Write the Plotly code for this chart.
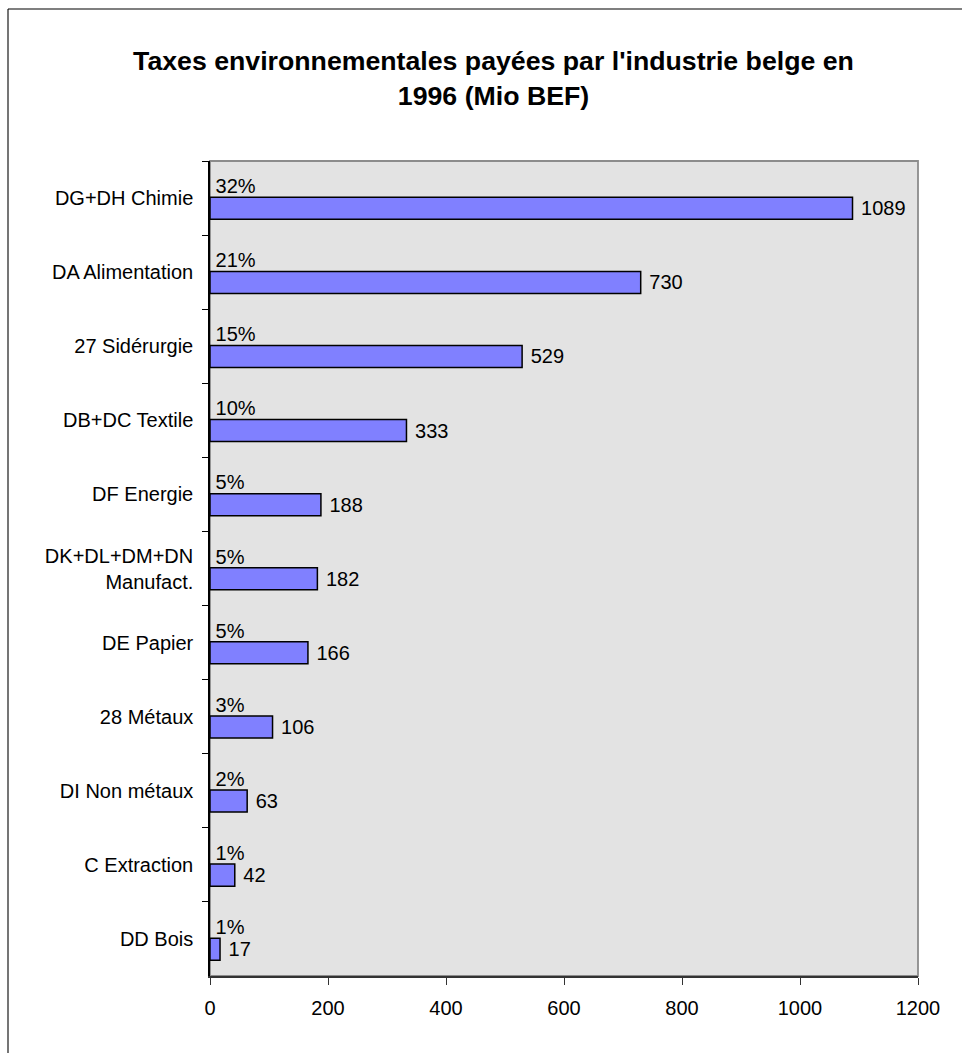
import plotly.graph_objects as go

categories = ["DG+DH Chimie", "DA Alimentation", "27 Sidérurgie", "DB+DC Textile",
              "DF Energie", "DK+DL+DM+DN<br>Manufact.", "DE Papier", "28 Métaux",
              "DI Non métaux", "C Extraction", "DD Bois"]
values = [1089, 730, 529, 333, 188, 182, 166, 106, 63, 42, 17]
percents = ["32%", "21%", "15%", "10%", "5%", "5%", "5%", "3%", "2%", "1%", "1%"]
x_ticks = [0, 200, 400, 600, 800, 1000, 1200]

FONT = "Liberation Sans, Arial, sans-serif"
W, H = 962, 1053
L, R, T, B = 210, 44, 161, 77
pw, ph = W - L - R, H - T - B

def px_x(p):
    return (p - L) / pw

def px_y(p):
    return (H - B - p) / ph

fig = go.Figure()
fig.add_trace(go.Bar(
    y=categories, x=values, orientation="h",
    marker=dict(color="#8080FF", line=dict(color="black", width=1.5)),
    width=0.297, offset=-0.01,
    text=["\u00a0" + str(v) for v in values], textposition="outside",
    textfont=dict(family=FONT, size=20, color="black"),
    cliponaxis=False, hoverinfo="skip", showlegend=False,
))
fig.add_trace(go.Scatter(
    y=categories, x=[0] * len(categories), mode="text",
    text=["\u00a0" + p for p in percents], textposition="top right",
    textfont=dict(family=FONT, size=20, color="black"),
    cliponaxis=False, hoverinfo="skip", showlegend=False,
))

fig.update_layout(
    width=W, height=H,
    margin=dict(l=L, r=R, t=T, b=B, pad=0),
    paper_bgcolor="white", plot_bgcolor="#E3E3E3",
    font=dict(family=FONT, size=20, color="black"),
    title=dict(
        text="<b>Taxes environnementales payées par l'industrie belge en<br>1996 (Mio BEF)</b>",
        font=dict(family=FONT, size=26.7, color="black"),
        x=493.5 / W, xanchor="center", xref="container",
        y=1 - 70 / H, yanchor="top", yref="container",
    ),
    xaxis=dict(
        range=[0, 1200], tickvals=x_ticks, ticktext=[str(t) for t in x_ticks],
        showgrid=False, zeroline=False,
        showline=True, linecolor="#333333", linewidth=1.5,
        ticks="outside", ticklen=7, tickcolor="#333333", tickwidth=1,
        ticklabelstandoff=6,
        tickfont=dict(family=FONT, size=20, color="black"),
        fixedrange=True,
    ),
    yaxis=dict(
        type="category", range=[len(categories) - 0.5, -0.5],
        showgrid=False, zeroline=False,
        showline=True, linecolor="black", linewidth=1.5,
        ticks="outside", ticklen=6, tickcolor="black", tickwidth=1,
        tickson="boundaries", ticklabelstandoff=11,
        tickfont=dict(family=FONT, size=20, color="black"),
        fixedrange=True,
    ),
    shapes=[
        dict(type="rect", xref="paper", yref="paper", x0=0, x1=1, y0=0, y1=1,
             line=dict(color="#8C8C8C", width=1.8), layer="below"),
        dict(type="line", xref="paper", yref="paper",
             x0=px_x(8), x1=px_x(8), y0=px_y(9), y1=px_y(H + 10),
             line=dict(color="#666666", width=1.8)),
        dict(type="line", xref="paper", yref="paper",
             x0=px_x(8), x1=px_x(W + 10), y0=px_y(9), y1=px_y(9),
             line=dict(color="black", width=1.2)),
    ],
)

fig.write_html("out.html")
